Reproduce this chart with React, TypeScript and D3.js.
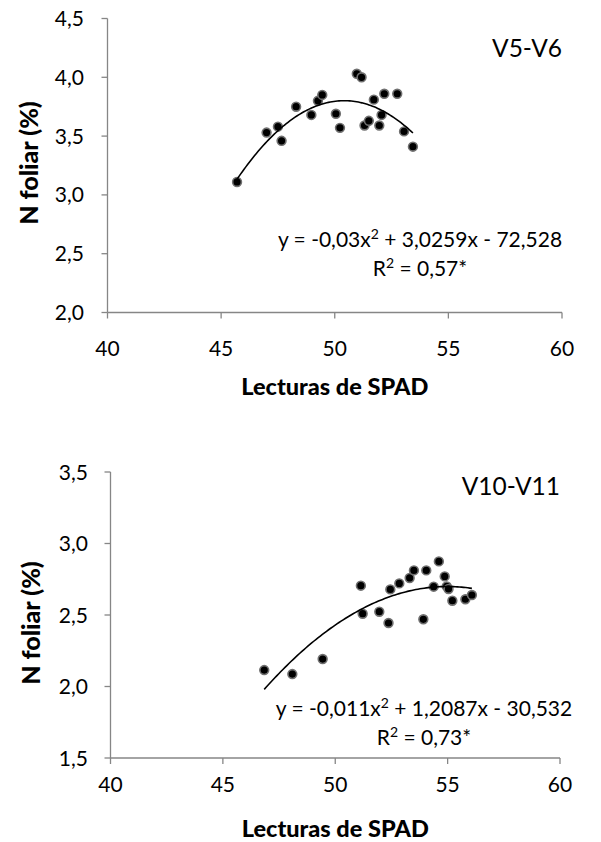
import React from "react";
import * as d3 from "d3";

// ---- Data ----
const spadV5 = [45.7, 47.0, 47.5, 47.66, 48.3, 48.97, 49.26, 49.45, 50.05, 50.23, 50.97, 51.18, 51.31, 51.5, 51.72, 51.96, 52.06, 52.18, 52.75, 53.05, 53.44];
const nV5 = [3.11, 3.53, 3.58, 3.46, 3.75, 3.68, 3.80, 3.85, 3.69, 3.57, 4.03, 4.0, 3.59, 3.63, 3.81, 3.59, 3.68, 3.86, 3.86, 3.54, 3.41];

const spadV10 = [46.84, 48.09, 49.44, 51.14, 51.22, 51.96, 52.37, 52.45, 52.85, 53.31, 53.5, 53.92, 54.05, 54.38, 54.61, 54.87, 54.96, 55.04, 55.21, 55.79, 56.08];
const nV10 = [2.115, 2.087, 2.192, 2.705, 2.509, 2.523, 2.444, 2.679, 2.721, 2.759, 2.812, 2.47, 2.812, 2.698, 2.875, 2.77, 2.70, 2.682, 2.60, 2.61, 2.64];

const xTicks = [40, 45, 50, 55, 60];
const yTicksV5 = [2.0, 2.5, 3.0, 3.5, 4.0, 4.5];
const yTicksV10 = [1.5, 2.0, 2.5, 3.0, 3.5];

const titleV5 = "V5-V6";
const titleV10 = "V10-V11";
const eqV5 = ["y = -0,03x", "2", " + 3,0259x - 72,528"];
const r2V5 = "0,57*";
const eqV10 = ["y = -0,011x", "2", " + 1,2087x - 30,532"];
const r2V10 = "0,73*";
const xTitle = "Lecturas de SPAD";
const yTitle = "N foliar (%)";

// quadratic least-squares trend (as a spreadsheet polynomial trendline)
function quadFit(xs: number[], ys: number[]) {
  const m = d3.mean(xs) as number;
  let s0 = 0, s1 = 0, s2 = 0, s3 = 0, s4 = 0, t0 = 0, t1 = 0, t2 = 0;
  xs.forEach((x0, i) => {
    const x = x0 - m;
    const y = ys[i];
    s0 += 1; s1 += x; s2 += x * x; s3 += x ** 3; s4 += x ** 4;
    t0 += y; t1 += x * y; t2 += x * x * y;
  });
  const A = [[s4, s3, s2, t2], [s3, s2, s1, t1], [s2, s1, s0, t0]];
  for (let i = 0; i < 3; i++) {
    for (let k = i + 1; k < 3; k++) {
      const f = A[k][i] / A[i][i];
      for (let j = i; j < 4; j++) A[k][j] -= f * A[i][j];
    }
  }
  const sol = [0, 0, 0];
  for (let i = 2; i >= 0; i--) {
    let s = A[i][3];
    for (let j = i + 1; j < 3; j++) s -= A[i][j] * sol[j];
    sol[i] = s / A[i][i];
  }
  const [a, b, c] = sol;
  return (x0: number) => {
    const x = x0 - m;
    return a * x * x + b * x + c;
  };
}

const FONT = "Lato, 'Open Sans', sans-serif";
const AXIS = "#868686";

type PanelProps = {
  xs: number[];
  ys: number[];
  yTicks: number[];
  xRange: [number, number];
  yRange: [number, number];
  yDomain: [number, number];
  title: string;
  titleY: number;
  eq: string[];
  r2: string;
  eqX: number;
  eqY: number;
  yLabelX: number;
  xTickY: number;
  xTitleY: number;
  yTitleX: number;
  yTitleY: number;
};

function Panel(p: PanelProps) {
  const x = d3.scaleLinear().domain([40, 60]).range(p.xRange);
  const y = d3.scaleLinear().domain(p.yDomain).range(p.yRange);
  const f = quadFit(p.xs, p.ys);
  const [x0, x1] = d3.extent(p.xs) as [number, number];
  const curvePts = d3.range(0, 101).map((i) => x0 + ((x1 - x0) * i) / 100);
  const line = d3
    .line<number>()
    .x((d) => x(d))
    .y((d) => y(f(d)))
    .curve(d3.curveLinear);
  const yBottom = p.yRange[0];
  const yTop = p.yRange[1];
  const xLeft = p.xRange[0];
  const xRight = p.xRange[1];
  return (
    <g>
      <line x1={xLeft} x2={xLeft} y1={yTop} y2={yBottom} stroke={AXIS} strokeWidth={1.3} />
      <line x1={xLeft} x2={xRight} y1={yBottom} y2={yBottom} stroke={AXIS} strokeWidth={1.3} />
      {p.yTicks.map((t) => (
        <g key={"y" + t}>
          <line x1={xLeft - 6} x2={xLeft} y1={y(t)} y2={y(t)} stroke={AXIS} strokeWidth={1.3} />
          <text x={p.yLabelX} y={y(t)} dy="0.36em" textAnchor="end" fontFamily={FONT} fontSize={21} fill="#000">
            {d3.format(".1f")(t).replace(".", ",")}
          </text>
        </g>
      ))}
      {xTicks.map((t) => (
        <g key={"x" + t}>
          <line x1={x(t)} x2={x(t)} y1={yBottom} y2={yBottom + 6} stroke={AXIS} strokeWidth={1.3} />
          <text x={x(t)} y={p.xTickY} textAnchor="middle" fontFamily={FONT} fontSize={21} fill="#000">
            {t}
          </text>
        </g>
      ))}
      {p.xs.map((xv, i) => (
        <circle key={i} cx={x(xv)} cy={y(p.ys[i])} r={4.4} fill="#000" stroke="#707070" strokeWidth={1.6} />
      ))}
      <path d={line(curvePts) || ""} fill="none" stroke="#000" strokeWidth={1.6} />
      <text x={xRight} y={p.titleY} textAnchor="end" fontFamily={FONT} fontSize={24.5} fill="#000">
        {p.title}
      </text>
      <text x={p.eqX} y={p.eqY} textAnchor="middle" fontFamily={FONT} fontSize={21} fill="#000">
        {p.eq[0]}
        <tspan fontSize={14} dy={-8}>{p.eq[1]}</tspan>
        <tspan dy={8}>{p.eq[2]}</tspan>
      </text>
      <text x={p.eqX} y={p.eqY + 29} textAnchor="middle" fontFamily={FONT} fontSize={21} fill="#000">
        R<tspan fontSize={14} dy={-8}>2</tspan>
        <tspan dy={8}>{" = " + p.r2}</tspan>
      </text>
      <text x={(xLeft + xRight) / 2} y={p.xTitleY} textAnchor="middle" fontFamily={FONT} fontWeight={900} fontSize={23.5} fill="#000">
        {xTitle}
      </text>
      <text
        transform={`translate(${p.yTitleX},${p.yTitleY}) rotate(-90)`}
        textAnchor="middle"
        fontFamily={FONT}
        fontWeight={900}
        fontSize={25}
        fill="#000"
      >
        {yTitle}
      </text>
    </g>
  );
}

export default function App() {
  return (
    <svg width={601} height={842} style={{ position: "absolute", left: 0, top: 0, background: "#fff" }}>
      <rect width={601} height={842} fill="#fff" />
      <Panel
        xs={spadV5}
        ys={nV5}
        yTicks={yTicksV5}
        xRange={[107.5, 562]}
        yRange={[312.5, 18.5]}
        yDomain={[2, 4.5]}
        title={titleV5}
        titleY={57}
        eq={eqV5}
        r2={r2V5}
        eqX={420}
        eqY={247}
        yLabelX={84}
        xTickY={356}
        xTitleY={395}
        yTitleX={38}
        yTitleY={163}
      />
      <Panel
        xs={spadV10}
        ys={nV10}
        yTicks={yTicksV10}
        xRange={[110.5, 560]}
        yRange={[758, 472]}
        yDomain={[1.5, 3.5]}
        title={titleV10}
        titleY={495}
        eq={eqV10}
        r2={r2V10}
        eqX={424}
        eqY={716}
        yLabelX={88}
        xTickY={792}
        xTitleY={837}
        yTitleX={40}
        yTitleY={623}
      />
    </svg>
  );
}
